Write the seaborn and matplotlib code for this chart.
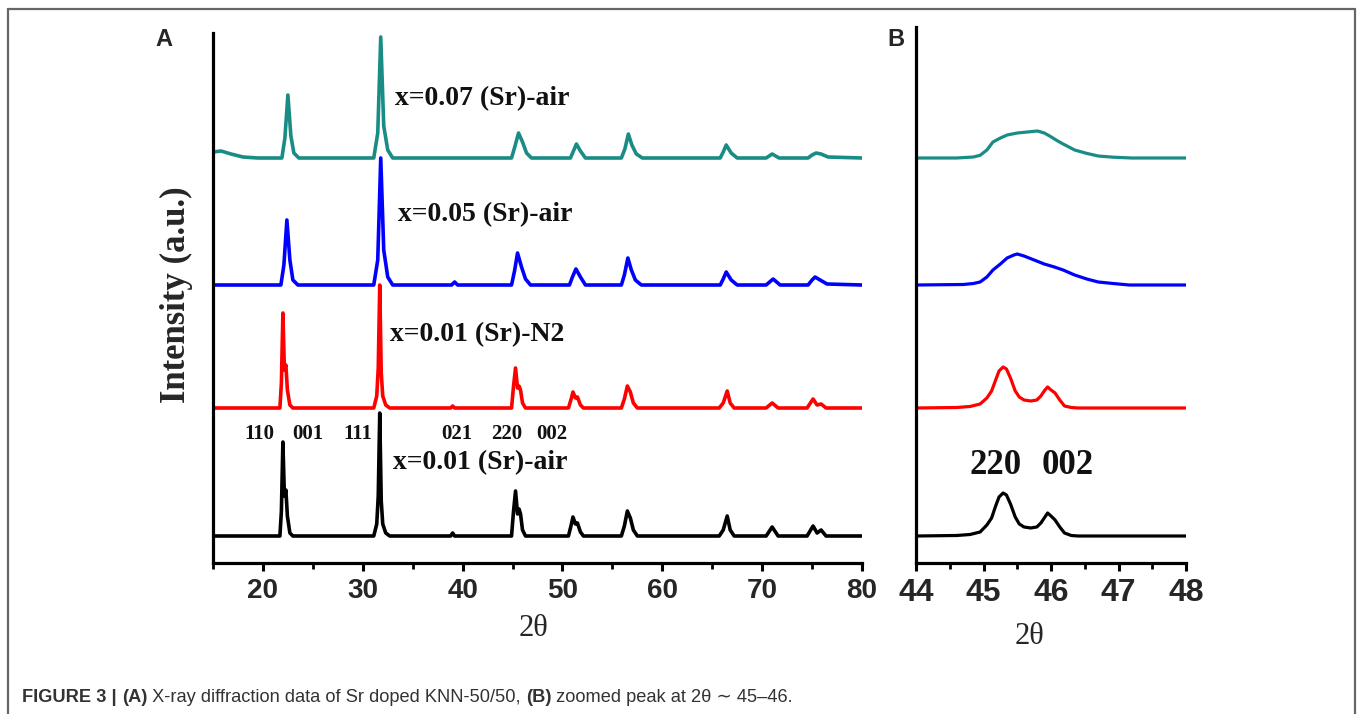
import numpy as np
import pandas as pd
import matplotlib
matplotlib.use("Agg")
import matplotlib.pyplot as plt
import seaborn as sns
from matplotlib.lines import Line2D
from matplotlib.ticker import MultipleLocator

# ------------------------------------------------------------------ data
series_names = ["x=0.01 (Sr)-air", "x=0.01 (Sr)-N2", "x=0.05 (Sr)-air", "x=0.07 (Sr)-air"]
series_colors = ["#000000", "#ff0000", "#0000ff", "#1a8c86"]

# Panel A (2theta 15-80); intensities relative to each pattern's baseline
sharp_x = [15, 21.7, 21.85, 22.0, 22.15, 22.3, 22.45, 22.7, 23.0,
           31.1, 31.4, 31.55, 31.7, 31.85, 32.0, 32.3, 32.7,
           38.8, 39.0, 39.2,
           44.9, 45.1, 45.3, 45.5, 45.65, 45.8, 46.0, 46.3,
           50.6, 50.9, 51.05, 51.3, 51.5, 51.8, 52.1,
           55.9, 56.2, 56.5, 56.8, 57.1, 57.5,
           65.7, 66.1, 66.5, 66.8, 67.2,
           70.4, 71.0, 71.6,
           74.5, 75.1, 75.5, 75.9, 76.4, 80]
air001_y = [0, 0, 25, 94, 40, 46, 20, 3, 0,
            0, 12, 40, 123, 35, 12, 3, 0,
            0, 3, 0,
            0, 25, 45, 22, 27, 22, 6, 0,
            0, 12, 19, 12, 13, 4, 0,
            0, 10, 25, 18, 6, 0,
            0, 6, 20, 6, 0,
            0, 9, 0,
            0, 10, 3, 6, 0, 0]
n2001_y = [0, 0, 25, 95, 38, 43, 18, 3, 0,
           0, 12, 40, 123, 35, 12, 3, 0,
           0, 2, 0,
           0, 22, 40, 20, 22, 18, 5, 0,
           0, 10, 16, 10, 11, 3, 0,
           0, 9, 22, 16, 5, 0,
           0, 5, 17, 5, 0,
           0, 5, 0,
           0, 9, 3, 4, 0, 0]
sr005_x = [15, 21.8, 22.1, 22.4, 22.7, 23.0, 23.5,
           31.1, 31.5, 31.8, 32.1, 32.5, 33.0,
           38.9, 39.2, 39.5,
           44.9, 45.2, 45.5, 45.9, 46.3, 46.8,
           50.7, 51.0, 51.35, 51.8, 52.3,
           55.9, 56.2, 56.55, 56.9, 57.3, 57.9,
           65.8, 66.1, 66.4, 66.9, 67.5,
           70.4, 71.1, 71.8,
           74.6, 75.0, 75.3, 75.8, 76.5, 80]
sr005_y = [0, 0, 20, 65, 25, 5, 0,
           0, 25, 127, 35, 8, 0,
           0, 3, 0,
           0, 14, 32, 18, 6, 0,
           0, 8, 16, 8, 0,
           0, 10, 27, 15, 5, 0,
           0, 6, 13, 5, 0,
           0, 6, 0,
           0, 5, 8, 5, 1, 0]
sr007_x = [15, 15.8, 16.8, 18.0, 19.5,
           21.9, 22.2, 22.5, 22.8, 23.1, 23.6,
           31.1, 31.5, 31.8, 32.1, 32.5, 33.0,
           44.9, 45.25, 45.6, 46.0, 46.4, 46.9,
           50.8, 51.1, 51.4, 51.8, 52.3,
           55.9, 56.25, 56.6, 56.95, 57.4, 58.0,
           65.8, 66.1, 66.4, 66.9, 67.5,
           70.4, 71.0, 71.7,
           74.6, 75.0, 75.4, 75.9, 76.6, 80]
sr007_y = [6, 7, 4, 1, 0,
           0, 20, 63, 22, 5, 0,
           0, 25, 121, 32, 8, 0,
           0, 12, 25, 16, 5, 0,
           0, 7, 14, 7, 0,
           0, 9, 24, 13, 4, 0,
           0, 6, 13, 5, 0,
           0, 4, 0,
           0, 3, 5, 4, 1, 0]

# Panel B (zoom 44-48)
zoom_sharp_x = [44.0, 44.6, 44.8, 44.95, 45.05, 45.12, 45.18, 45.23, 45.29, 45.34,
                45.4, 45.47, 45.53, 45.6, 45.7, 45.79, 45.85, 45.91, 45.95, 46.0,
                46.06, 46.13, 46.2, 46.3, 46.4, 48.0]
zoom_air001_y = [0, 0.5, 1.5, 4, 11, 18, 30, 39, 43, 41,
                 32, 19, 12, 9, 8, 9, 13, 19, 23, 20,
                 16, 9, 3, 0.5, 0, 0]
zoom_n2001_y = [0, 0.5, 1.5, 4, 10, 17, 28, 37, 41, 39,
                30, 17, 11, 8, 7, 8, 12, 18, 21, 18,
                15, 8, 2, 0.5, 0, 0]
zoom_sr005_x = [44.0, 44.7, 44.85, 44.95, 45.05, 45.14, 45.25, 45.35, 45.45, 45.5,
                45.6, 45.75, 45.9, 46.05, 46.18, 46.35, 46.53, 46.7, 46.92, 47.16, 48.0]
zoom_sr005_y = [0, 0.5, 1.5, 3, 8, 15, 21, 27, 30, 31,
                29, 25, 21, 18, 15, 10, 6, 3, 1.5, 0, 0]
zoom_sr007_x = [44.0, 44.6, 44.85, 44.95, 45.05, 45.14, 45.25, 45.35, 45.5, 45.65,
                45.8, 45.9, 45.98, 46.1, 46.18, 46.35, 46.53, 46.7, 46.92, 47.2, 48.0]
zoom_sr007_y = [0, 0, 1, 2.7, 8, 16, 20, 23, 25, 26,
                27, 25, 22, 17, 14, 8, 4.6, 2, 0.8, 0, 0]

hkl_labels = ["110", "001", "111", "021", "220", "002"]
zoom_hkl_labels = ["220", "002"]
xticks_A = [20, 30, 40, 50, 60, 70, 80]
xticks_B = [44, 45, 46, 47, 48]

# ------------------------------------------------------------------ layout
W, H = 1358, 714
stack_offsets = [27, 155, 278, 405]

sns.set_style("white")
plt.rcParams['font.family'] = ['Liberation Sans', 'DejaVu Sans']
SERIF = ['Liberation Serif', 'DejaVu Serif']

fig = plt.figure(figsize=(W / 100, H / 100), dpi=100)


def fx(px):
    return px / W


def fy(py):
    return 1 - py / H


axA = fig.add_axes([fx(213), fy(563), fx(862) - fx(213), fy(33) - fy(563)])
axB = fig.add_axes([fx(916), fy(563), fx(1186) - fx(916), fy(27) - fy(563)])

panelA = [(sharp_x, air001_y), (sharp_x, n2001_y), (sr005_x, sr005_y), (sr007_x, sr007_y)]
panelB = [(zoom_sharp_x, zoom_air001_y), (zoom_sharp_x, zoom_n2001_y),
          (zoom_sr005_x, zoom_sr005_y), (zoom_sr007_x, zoom_sr007_y)]

for (xs, ys), off, col in zip(panelA, stack_offsets, series_colors):
    assert len(xs) == len(ys)
    sns.lineplot(x=np.asarray(xs, float), y=np.asarray(ys, float) + off, ax=axA,
                 color=col, linewidth=2.6, estimator=None, sort=False, legend=False)
for (xs, ys), off, col in zip(panelB, stack_offsets, series_colors):
    assert len(xs) == len(ys)
    sns.lineplot(x=np.asarray(xs, float), y=np.asarray(ys, float) + off, ax=axB,
                 color=col, linewidth=2.3, estimator=None, sort=False, legend=False)

axA.set_xlim(15, 80)
axA.set_ylim(0, 530)
axB.set_xlim(44, 48)
axB.set_ylim(0, 536)

for ax, ticks, fs, minor in [(axA, xticks_A, 20, 5), (axB, xticks_B, 23, 0.5)]:
    for s in ["top", "right"]:
        ax.spines[s].set_visible(False)
    for s in ["left", "bottom"]:
        ax.spines[s].set_linewidth(2.3)
        ax.spines[s].set_color("black")
    ax.set_yticks([])
    ax.set_xticks(ticks)
    ax.set_xticklabels([str(t) for t in ticks], fontweight="bold", fontsize=fs)
    ax.xaxis.set_minor_locator(MultipleLocator(minor))
    ax.tick_params(axis="x", which="major", direction="out", length=6, width=2.2,
                   pad=5, bottom=True, color="black")
    ax.tick_params(axis="x", which="minor", direction="out", length=4, width=2.0,
                   bottom=True, color="black")
    ax.set_xlabel("")
    ax.set_ylabel("")
    ax.patch.set_alpha(0)

# axis titles
fig.text(fx(533), fy(628), "2θ", ha="center", va="center", fontsize=22, family=SERIF)
fig.text(fx(1030), fy(636), "2θ", ha="center", va="center", fontsize=22, family=SERIF)
fig.text(fx(176), fy(295), "Intensity (a.u.)", ha="center", va="center", rotation=90,
         fontsize=25, family=SERIF, fontweight="bold")

# panel letters
fig.text(fx(164), fy(40), "A", ha="center", va="center", fontsize=17, fontweight="bold")
fig.text(fx(896), fy(40), "B", ha="center", va="center", fontsize=17, fontweight="bold")

# sample labels
label_pos = [(393, 463), (390, 335), (398, 215), (395, 99)]
for name, (px, py) in zip(series_names, label_pos):
    fig.text(fx(px), fy(py), name, ha="left", va="center", fontsize=20,
             family=SERIF, fontweight="bold", color="#111111")

# Miller indices (panel A)
hkl_pos = [259, 308, 358, 457, 507, 552]
for lab, px in zip(hkl_labels, hkl_pos):
    fig.text(fx(px), fy(434), lab, ha="center", va="center", fontsize=15,
             family=SERIF, fontweight="bold", color="#111111")
# Miller indices (panel B)
for lab, px in zip(zoom_hkl_labels, [996, 1068]):
    fig.text(fx(px), fy(466), lab, ha="center", va="center", fontsize=25,
             family=SERIF, fontweight="bold", color="#111111")

# frame
frame_kw = dict(color="#666666", linewidth=1.6, transform=fig.transFigure)
fig.add_artist(Line2D([fx(8), fx(8)], [0, fy(9)], **frame_kw))
fig.add_artist(Line2D([fx(8), fx(1355)], [fy(9), fy(9)], **frame_kw))
fig.add_artist(Line2D([fx(1355), fx(1355)], [fy(9), 0], **frame_kw))

# caption with mixed weights
pieces = [("FIGURE 3 | ", "bold"), ("(A)", "bold"),
          (" X-ray diffraction data of Sr doped KNN-50/50, ", "normal"),
          ("(B)", "bold"), (" zoomed peak at 2θ ∼ 45–46.", "normal")]
renderer = fig.canvas.get_renderer()


def draw_caption(fs):
    x = 22.0
    arts = []
    for s, w in pieces:
        t = fig.text(x / W, fy(697), s, fontsize=fs, fontweight=w, color="#333333",
                     ha="left", va="center")
        bb = t.get_window_extent(renderer)
        x = bb.x1
        arts.append(t)
    return arts, x - 22.0


arts, total = draw_caption(12)
for a in arts:
    a.remove()
draw_caption(12 * 771.0 / total)

fig.savefig("out.png", dpi=100)
